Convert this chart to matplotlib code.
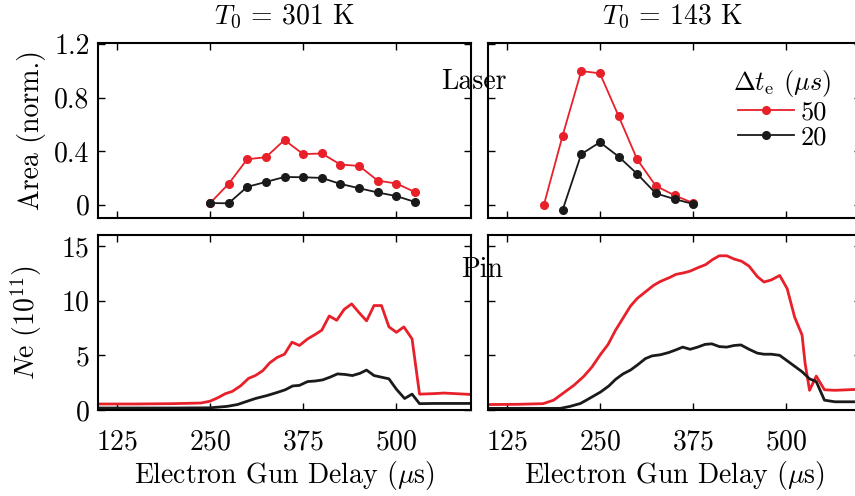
import matplotlib
matplotlib.use("Agg")
import matplotlib.pyplot as plt

plt.rcParams['font.family'] = 'serif'
plt.rcParams['font.serif'] = ['cmr10']
plt.rcParams['mathtext.fontset'] = 'cm'
plt.rcParams['axes.formatter.use_mathtext'] = True

RED = '#e8202a'
BLACK = '#1a1a1a'

# ---- laser signal (top row) ----
laser_x_301 = [250, 275, 300, 325, 350, 375, 400, 425, 450, 475, 500, 525]
laser_301_50 = [0.01, 0.155, 0.34, 0.355, 0.484, 0.378, 0.383, 0.30, 0.29, 0.18, 0.158, 0.094]
laser_301_20 = [0.012, 0.01, 0.133, 0.17, 0.207, 0.205, 0.20, 0.155, 0.123, 0.091, 0.064, 0.02]

laser_x_143_50 = [175, 200, 225, 250, 275, 300, 325, 350, 375]
laser_143_50 = [0.0, 0.516, 1.0, 0.983, 0.664, 0.338, 0.14, 0.07, 0.012]
laser_x_143_20 = [200, 225, 250, 275, 300, 325, 350, 375]
laser_143_20 = [-0.04, 0.378, 0.467, 0.36, 0.23, 0.084, 0.042, 0.005]

# ---- pin probe density (bottom row) ----
pin_x_301_50 = [100, 150, 200, 238, 250, 260, 271, 280, 291, 302, 311, 321, 330, 340, 350,
                360, 370, 381, 391, 400, 410, 420, 430, 440, 450, 460, 470, 480, 490, 500,
                510, 521, 531, 551, 564, 600]
pin_301_50 = [0.55, 0.55, 0.58, 0.64, 0.8, 1.1, 1.5, 1.7, 2.2, 2.9, 3.15, 3.6, 4.3, 4.8, 5.1,
              6.2, 5.9, 6.5, 6.9, 7.3, 8.6, 8.2, 9.2, 9.7, 8.9, 8.15, 9.55, 9.55, 7.6, 7.1,
              7.6, 6.5, 1.45, 1.5, 1.55, 1.42]
pin_x_301_20 = [100, 150, 200, 250, 273, 287, 300, 311, 327, 340, 351, 361, 370, 381, 391,
                401, 411, 421, 431, 441, 451, 460, 470, 480, 490, 500, 511, 521, 531, 551, 600]
pin_301_20 = [0.18, 0.18, 0.18, 0.2, 0.33, 0.5, 0.8, 1.05, 1.33, 1.6, 1.85, 2.2, 2.25, 2.6, 2.65,
              2.75, 3.0, 3.3, 3.25, 3.15, 3.35, 3.65, 3.15, 3.0, 2.85, 1.9, 1.05, 1.45, 0.58, 0.6, 0.6]

pin_x_143_50 = [100, 140, 174, 188, 201, 215, 228, 239, 251, 261, 271, 281, 291, 300, 311,
                322, 331, 343, 352, 363, 371, 381, 392, 401, 410, 420, 430, 440, 450, 461,
                470, 480, 491, 501, 511, 521, 525, 531, 540, 551, 565, 600]
pin_143_50 = [0.5, 0.52, 0.58, 0.9, 1.55, 2.25, 3.05, 3.9, 5.1, 6.0, 7.3, 8.4, 9.5, 10.2, 10.8,
              11.4, 11.75, 12.1, 12.4, 12.55, 12.7, 13.0, 13.3, 13.75, 14.1, 14.1, 13.8, 13.6, 13.15, 12.2,
              11.7, 11.9, 12.3, 11.1, 8.5, 6.85, 4.3, 1.8, 3.1, 1.85, 1.8, 1.9]
pin_x_143_20 = [100, 150, 197, 210, 224, 237, 251, 262, 271, 281, 291, 300, 311, 320, 331,
                342, 352, 361, 371, 381, 391, 400, 410, 420, 430, 439, 450, 461, 470, 480,
                491, 501, 511, 521, 531, 540, 551, 565, 600]
pin_143_20 = [0.15, 0.15, 0.15, 0.33, 0.6, 1.1, 1.65, 2.2, 2.8, 3.3, 3.65, 4.1, 4.7, 4.95, 5.05,
              5.25, 5.5, 5.75, 5.55, 5.75, 6.0, 6.05, 5.8, 5.75, 5.9, 5.95, 5.55, 5.2, 5.1, 5.1,
              5.0, 4.5, 4.0, 3.5, 2.85, 2.6, 0.9, 0.75, 0.75]

x_ticks = [125, 250, 375, 500]
area_ticks = [0, 0.4, 0.8, 1.2]
area_labels = ['0', '0.4', '0.8', '1.2']
ne_ticks = [0, 5, 10, 15]
titles = ['$T_0$ = 301 K', '$T_0$ = 143 K']
legend_labels = ['50', '20']

fig = plt.figure(figsize=(8.55, 4.96), dpi=100)
W, H = 855, 496


def add_ax(x0, y0, x1, y1):
    return fig.add_axes([x0 / W, 1 - y1 / H, (x1 - x0) / W, (y1 - y0) / H])


ax_tl = add_ax(98, 43, 471, 218)
ax_tr = add_ax(488, 43, 861, 218)
ax_bl = add_ax(98, 235, 471, 410)
ax_br = add_ax(488, 235, 861, 410)

mk = dict(marker='o', markersize=5.5, lw=1.3)
ax_tl.plot(laser_x_301, laser_301_50, color=RED, **mk)
ax_tl.plot(laser_x_301, laser_301_20, color=BLACK, **mk)
ax_tr.plot(laser_x_143_50, laser_143_50, color=RED, label=legend_labels[0], **mk)
ax_tr.plot(laser_x_143_20, laser_143_20, color=BLACK, label=legend_labels[1], **mk)

ax_bl.plot(pin_x_301_50, pin_301_50, color=RED, lw=2)
ax_bl.plot(pin_x_301_20, pin_301_20, color=BLACK, lw=2)
ax_br.plot(pin_x_143_50, pin_143_50, color=RED, lw=2)
ax_br.plot(pin_x_143_20, pin_143_20, color=BLACK, lw=2)

for ax in (ax_tl, ax_tr, ax_bl, ax_br):
    ax.set_xlim(100, 600)
    ax.set_xticks(x_ticks)
    ax.tick_params(direction='in', top=True, right=True, length=5, width=1,
                   labelsize=20, pad=6)
    ax.tick_params(axis='x', pad=14)
    for s in ax.spines.values():
        s.set_linewidth(1.5)

for ax in (ax_tl, ax_tr):
    ax.set_ylim(-0.1, 1.21)
    ax.set_yticks(area_ticks)
    ax.set_xticklabels([])
for ax in (ax_bl, ax_br):
    ax.set_ylim(0, 16)
    ax.set_yticks(ne_ticks)
    ax.set_xlabel('Electron Gun Delay ($\\mu$s)', fontsize=20, labelpad=2)
ax_tl.set_yticklabels(area_labels)
ax_tr.set_yticklabels([])
ax_br.set_yticklabels([])

ax_tl.set_ylabel('Area (norm.)', fontsize=20, labelpad=6)
ax_bl.set_ylabel('$N$e ($10^{11}$)', fontsize=20, labelpad=12)

fig.text(285 / W, 1 - 17 / H, titles[0], fontsize=20, ha='center', va='center')
fig.text(673 / W, 1 - 17 / H, titles[1], fontsize=20, ha='center', va='center')

fig.text(474 / W, 1 - 82 / H, 'Laser', fontsize=20, ha='center', va='center')
fig.text(482 / W, 1 - 270 / H, 'Pin', fontsize=20, ha='center', va='center')

leg = ax_tr.legend(title='$\\Delta t_\\mathrm{e}$ $(\\mu s)$', frameon=False, fontsize=19,
                   title_fontsize=19, loc='upper left',
                   bbox_to_anchor=(720 / W, 1 - 55 / H), bbox_transform=fig.transFigure,
                   handlelength=2.1, handletextpad=0.25, labelspacing=0.05, borderpad=0)

fig.savefig('out.png', dpi=100)
